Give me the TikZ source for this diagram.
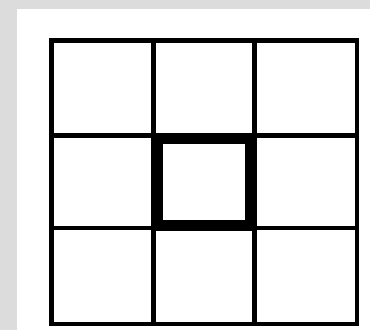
\documentclass[tikz,border=0pt]{standalone}
\usepackage{xcolor}
\definecolor{framegray}{HTML}{DCDCDC}

\begin{document}
\begin{tikzpicture}[
    x=1pt, y=-1pt,
    gridline/.style={draw=black, line width=4.5pt, line cap=rect},
    centerbox/.style={draw=black, line width=11pt}
]
    % background and margins
    \fill[framegray] (0,0) rectangle (370,330);
    \fill[white] (17,9) rectangle (370,330);
    \useasboundingbox (0,0) rectangle (370,330);

    % grid corners
    \coordinate (tl) at (51.5,40.5);
    \coordinate (br) at (357,324);

    % 3x3 grid
    \foreach \gx in {153.5,254.5}
        \draw[gridline] (\gx,40.5) -- (\gx,324);
    \foreach \gy in {135.5,228}
        \draw[gridline] (51.5,\gy) -- (357,\gy);
    \draw[gridline] (tl) rectangle (br);

    % thick centre square
    \draw[centerbox] (157.5,138.5) rectangle (250,225.5);
\end{tikzpicture}
\end{document}
